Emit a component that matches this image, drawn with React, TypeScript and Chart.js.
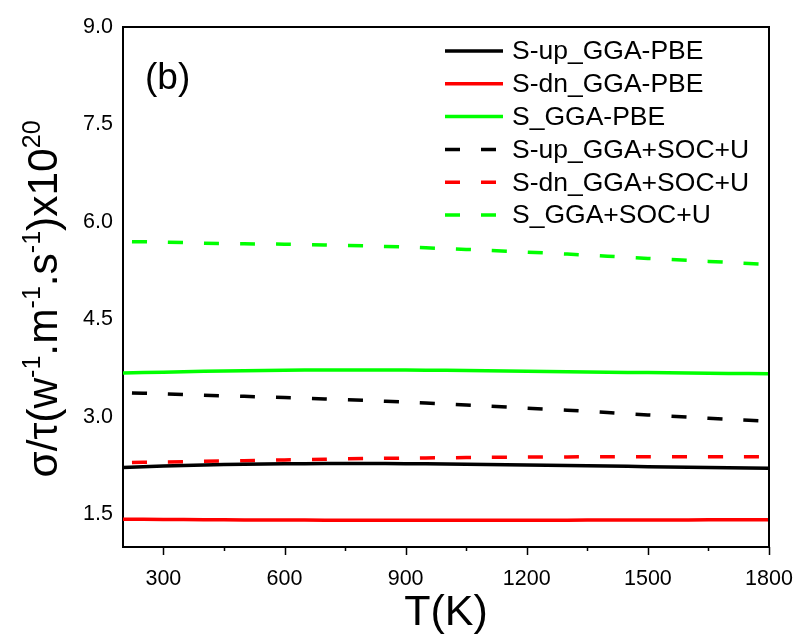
import React, { useEffect, useRef } from "react";
import { Chart, registerables } from "chart.js";

Chart.register(...registerables);

// ---------------- data ----------------
const temperatures = [200, 300, 400, 500, 600, 700, 800, 900, 1000, 1100, 1200, 1300, 1400, 1500, 1600, 1700, 1800];

const sUpPBE = [2.222, 2.245, 2.262, 2.273, 2.28, 2.284, 2.285, 2.282, 2.276, 2.269, 2.262, 2.254, 2.245, 2.236, 2.228, 2.22, 2.213];
const sDnPBE = [1.427, 1.424, 1.42, 1.417, 1.415, 1.413, 1.412, 1.411, 1.411, 1.411, 1.412, 1.413, 1.414, 1.415, 1.417, 1.418, 1.42];
const sPBE = [3.676, 3.69, 3.703, 3.713, 3.72, 3.724, 3.725, 3.723, 3.718, 3.712, 3.705, 3.698, 3.69, 3.683, 3.676, 3.671, 3.666];
const sUpSOCU = [3.375, 3.357, 3.335, 3.318, 3.3, 3.278, 3.255, 3.229, 3.201, 3.169, 3.137, 3.105, 3.069, 3.032, 2.997, 2.963, 2.935];
const sDnSOCU = [2.3, 2.308, 2.318, 2.328, 2.34, 2.35, 2.361, 2.368, 2.373, 2.379, 2.383, 2.386, 2.388, 2.389, 2.39, 2.39, 2.39];
const sSOCU = [5.7, 5.69, 5.675, 5.665, 5.658, 5.647, 5.633, 5.614, 5.591, 5.565, 5.537, 5.507, 5.474, 5.44, 5.41, 5.378, 5.345];

const seriesLabels = [
  "S-up_GGA-PBE",
  "S-dn_GGA-PBE",
  "S_GGA-PBE",
  "S-up_GGA+SOC+U",
  "S-dn_GGA+SOC+U",
  "S_GGA+SOC+U",
];
const seriesValues = [sUpPBE, sDnPBE, sPBE, sUpSOCU, sDnSOCU, sSOCU];
const seriesColors = ["#000000", "#ff0000", "#00ff00", "#000000", "#ff0000", "#00ff00"];
const seriesDashed = [false, false, false, true, true, true];

const yTicks = [1.5, 3.0, 4.5, 6.0, 7.5, 9.0];
const xMajorTicks = [300, 600, 900, 1200, 1500, 1800];
const xMinorTicks = [450, 750, 1050, 1350, 1650];

const xTitle = "T(K)";
const panelLabel = "(b)";
// y title pieces: [text, isSuperscript]
const yTitleParts: [string, boolean][] = [
  ["σ/τ(w", false],
  ["-1", true],
  [".m", false],
  ["-1", true],
  [".s", false],
  ["-1", true],
  [")x10", false],
  ["20", true],
];

const FONT = "'Liberation Sans', Arial, Helvetica, sans-serif";
const DASH = [15, 21];

const overlayPlugin = {
  id: "overlay",
  afterDraw(chart: any) {
    const ctx = chart.ctx as CanvasRenderingContext2D;
    const area = chart.chartArea;
    const xs = chart.scales.x;
    ctx.save();

    // top + right frame
    ctx.strokeStyle = "#000";
    ctx.lineWidth = 2;
    ctx.beginPath();
    ctx.moveTo(area.left, area.top);
    ctx.lineTo(area.right, area.top);
    ctx.lineTo(area.right, area.bottom);
    ctx.stroke();

    // x tick marks (major/minor)
    ctx.lineWidth = 1.5;
    ctx.beginPath();
    xMajorTicks.forEach((v) => {
      const p = Math.round(xs.getPixelForValue(v)) + 0.5;
      ctx.moveTo(p, area.bottom);
      ctx.lineTo(p, area.bottom + 8);
    });
    xMinorTicks.forEach((v) => {
      const p = Math.round(xs.getPixelForValue(v)) + 0.5;
      ctx.moveTo(p, area.bottom);
      ctx.lineTo(p, area.bottom + 4);
    });
    ctx.stroke();

    // panel label
    ctx.fillStyle = "#000";
    ctx.font = `37px ${FONT}`;
    ctx.textAlign = "left";
    ctx.textBaseline = "alphabetic";
    ctx.fillText(panelLabel, area.left + 22, area.top + 62);

    // y title (rotated, with superscripts)
    const mainSize = 42.5;
    const supSize = 25;
    let total = 0;
    yTitleParts.forEach(([t, sup]) => {
      ctx.font = `${sup ? supSize : mainSize}px ${FONT}`;
      total += ctx.measureText(t).width;
    });
    ctx.save();
    ctx.translate(57, (area.top + area.bottom) / 2 + 12);
    ctx.rotate(-Math.PI / 2);
    let cx = -total / 2;
    yTitleParts.forEach(([t, sup]) => {
      ctx.font = `${sup ? supSize : mainSize}px ${FONT}`;
      ctx.fillText(t, cx, sup ? -17 : 0);
      cx += ctx.measureText(t).width;
    });
    ctx.restore();

    // legend
    const lx0 = 445;
    const lx1 = 503;
    const ly0 = 51;
    const lstep = 32.8;
    chart.data.datasets.forEach((ds: any, i: number) => {
      const y = ly0 + i * lstep;
      ctx.strokeStyle = ds.borderColor;
      ctx.lineWidth = 3.5;
      ctx.setLineDash(ds.borderDash || []);
      ctx.beginPath();
      ctx.moveTo(lx0, y);
      ctx.lineTo(lx1, y);
      ctx.stroke();
      ctx.setLineDash([]);
      ctx.fillStyle = "#000";
      ctx.font = `26.5px ${FONT}`;
      ctx.textBaseline = "middle";
      ctx.fillText(ds.label, 512, y + 1);
    });

    ctx.restore();
  },
};

export default function App() {
  const canvasRef = useRef<HTMLCanvasElement | null>(null);

  useEffect(() => {
    if (!canvasRef.current) return;
    const datasets = seriesLabels.map((label, i) => ({
      label,
      data: temperatures.map((t, j) => ({ x: t, y: seriesValues[i][j] })),
      borderColor: seriesColors[i],
      backgroundColor: seriesColors[i],
      borderWidth: 3.5,
      borderDash: seriesDashed[i] ? DASH : [],
      borderDashOffset: seriesDashed[i] ? 27 : 0,
      pointRadius: 0,
      tension: 0.3,
      fill: false,
    }));

    const chart = new Chart(canvasRef.current, {
      type: "line",
      data: { datasets },
      options: {
        animation: false,
        responsive: false,
        maintainAspectRatio: false,
        devicePixelRatio: 1,
        layout: { padding: { top: 27, right: 29, left: 0, bottom: 0 } },
        plugins: {
          legend: { display: false },
          tooltip: { enabled: false },
        },
        scales: {
          x: {
            type: "linear",
            min: 200,
            max: 1800,
            afterBuildTicks: (scale: any) => {
              scale.ticks = [...xMajorTicks, ...xMinorTicks]
                .sort((a, b) => a - b)
                .map((v) => ({ value: v }));
            },
            afterFit: (scale: any) => {
              scale.height = 94;
              scale.paddingLeft = 0;
              scale.paddingRight = 0;
            },
            grid: { display: false, drawTicks: false },
            border: { display: true, color: "#000", width: 2 },
            ticks: {
              autoSkip: false,
              maxRotation: 0,
              padding: 19,
              color: "#000",
              font: { family: FONT, size: 21.5 },
              callback: (v: any) => (xMajorTicks.includes(Number(v)) ? String(v) : ""),
            },
            title: {
              display: true,
              text: xTitle,
              color: "#000",
              font: { family: FONT, size: 43 },
              padding: { top: 0, bottom: 2 },
            },
          },
          y: {
            type: "linear",
            min: 1,
            max: 9,
            afterBuildTicks: (scale: any) => {
              scale.ticks = yTicks.map((v) => ({ value: v }));
            },
            afterFit: (scale: any) => {
              scale.width = 123;
              scale.paddingTop = 0;
              scale.paddingBottom = 0;
            },
            grid: { display: false, drawTicks: false },
            border: { display: true, color: "#000", width: 2 },
            ticks: {
              autoSkip: false,
              padding: 10,
              color: "#000",
              font: { family: FONT, size: 21.5 },
              callback: (v: any) => Number(v).toFixed(1),
            },
          },
        },
      },
      plugins: [overlayPlugin],
    } as any);

    return () => chart.destroy();
  }, []);

  return (
    <div style={{ position: "fixed", left: 0, top: 0, width: 798, height: 641, background: "#fff" }}>
      <canvas ref={canvasRef} width={798} height={641} style={{ width: 798, height: 641, display: "block" }} />
    </div>
  );
}
